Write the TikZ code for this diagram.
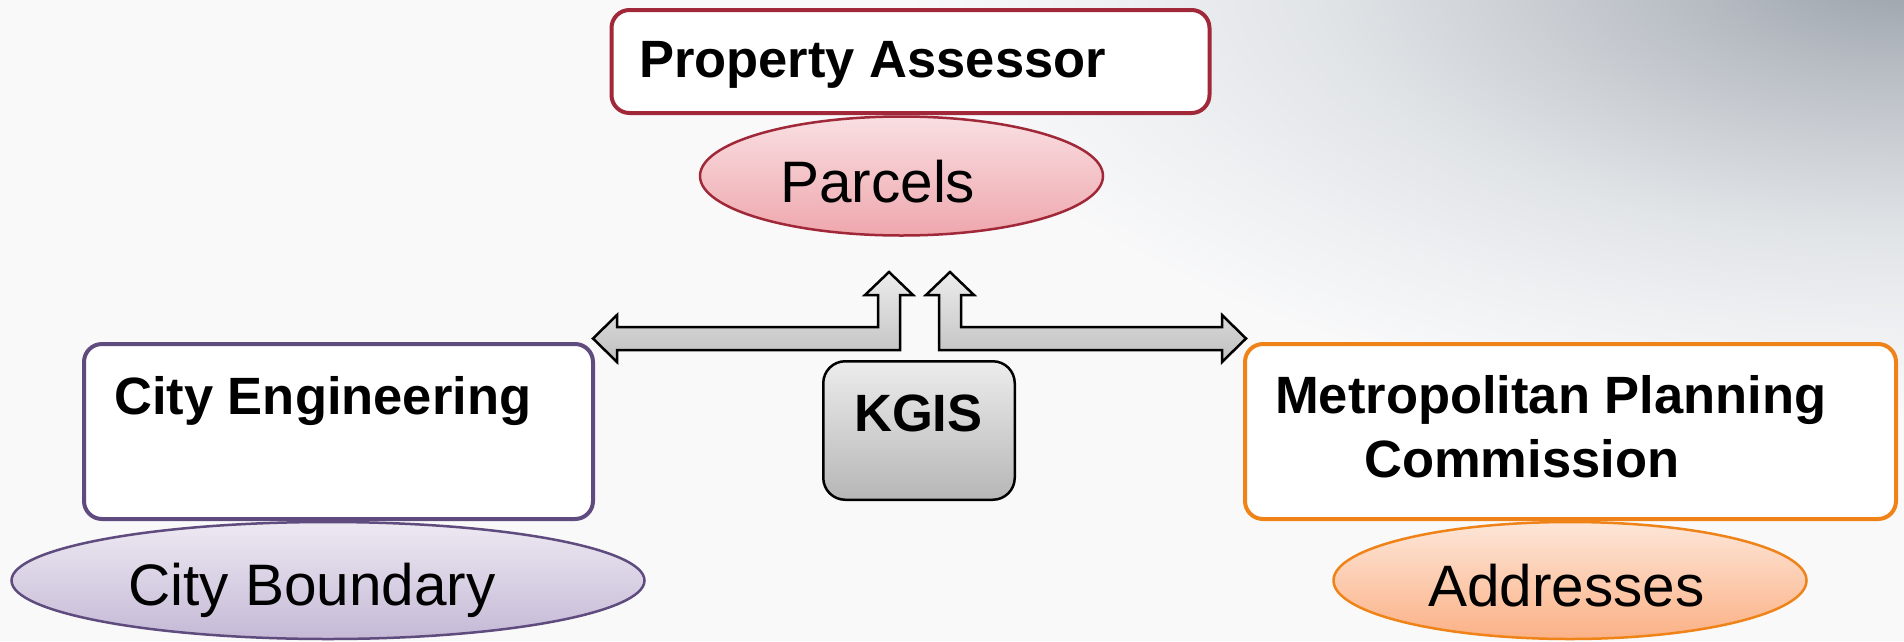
\documentclass[tikz,border=0pt]{standalone}
\usepackage{fontspec}
\setmainfont{Liberation Sans}
\usetikzlibrary{shapes.geometric}
\definecolor{bgc}{RGB}{249,249,250}
\definecolor{bg0}{RGB}{153,160,168}
\definecolor{bg1}{RGB}{181,186,193}
\definecolor{bg2}{RGB}{205,209,214}
\definecolor{bg3}{RGB}{226,229,232}
\definecolor{bg4}{RGB}{238,240,242}
\definecolor{redb}{RGB}{160,40,56}
\definecolor{redt}{RGB}{249,223,226}
\definecolor{redm}{RGB}{238,167,173}
\definecolor{purb}{RGB}{95,75,125}
\definecolor{purt}{RGB}{237,233,242}
\definecolor{purm}{RGB}{197,185,214}
\definecolor{orab}{RGB}{239,131,24}
\definecolor{orat}{RGB}{253,230,216}
\definecolor{oram}{RGB}{251,177,134}
\definecolor{grt}{RGB}{236,236,236}
\definecolor{grm}{RGB}{192,192,192}
\pgfdeclareradialshading{bgrad}{\pgfpoint{0bp}{0bp}}{color(0bp)=(bg0); color(5bp)=(bg1); color(10bp)=(bg2); color(15bp)=(bg3); color(20bp)=(bg4); color(25bp)=(bgc); color(50bp)=(bgc)}
\tikzset{
  agency/.style={draw, line width=4pt, fill=white, rounded corners=18pt, inner sep=0pt},
  dataset/.style={ellipse, draw, line width=2.5pt, inner sep=0pt},
  boldlbl/.style={anchor=base west, inner sep=0pt, font=\fontsize{52.5}{60}\selectfont\bfseries},
  reglbl/.style={anchor=base west, inner sep=0pt, font=\fontsize{58.5}{66}\selectfont},
  bigarrow/.style={draw=black, line width=2.5pt, line join=miter, top color=grt, bottom color=grm}
}
\begin{document}
\begin{tikzpicture}[x=1pt,y=-1pt]
\useasboundingbox (0,0) rectangle (1904,641);
\fill[bgc] (0,0) rectangle (1904,641);
\begin{scope}
\clip (0,0) rectangle (1904,641);
\shade[shading=bgrad] (904,-480) rectangle (2904,420);
\end{scope}

% data ellipses
\node[dataset, draw=redb, top color=redt, bottom color=redm, minimum width=403pt, minimum height=119pt] (parcels) at (901.5,176) {};
\node[dataset, draw=purb, top color=purt, bottom color=purm, minimum width=633pt, minimum height=117pt] (boundary) at (328,580.5) {};
\node[dataset, draw=orab, top color=orat, bottom color=oram, minimum width=473pt, minimum height=117pt] (addresses) at (1570,580.5) {};

% agency boxes
\node[agency, draw=redb, minimum width=598pt, minimum height=103pt] (assessor) at (910.5,61.5) {};
\node[agency, draw=purb, minimum width=509pt, minimum height=175pt] (engineering) at (338.5,431.5) {};
\node[agency, draw=orab, minimum width=651pt, minimum height=175pt] (mpc) at (1570.5,431.5) {};

% arrows
\path[bigarrow] (593,338.5) -- (617,315) -- (617,327) -- (878,327) -- (878,295) -- (865,295) -- (889,272) -- (913,295) -- (900,295) -- (900,350) -- (617,350) -- (617,362) -- cycle;
\path[bigarrow] (1246,338.5) -- (1222,315) -- (1222,327) -- (961,327) -- (961,295) -- (974,295) -- (950,272) -- (926,295) -- (939,295) -- (939,350) -- (1222,350) -- (1222,362) -- cycle;

% KGIS
\node[draw=black, line width=2.5pt, rounded corners=22pt, top color=grt, bottom color=grm!95!black, minimum width=191.5pt, minimum height=138.5pt, inner sep=0pt] (kgis) at (919,430.5) {};

% labels
\node[boldlbl] (tassessor) at (639,77) {Property Assessor};
\node[reglbl] (tparcels) at (780,202) {Parcels};
\node[boldlbl] (tkgis) at (854,431) {KGIS};
\node[boldlbl] (tengineering) at (114,414) {City Engineering};
\node[reglbl] (tboundary) at (128,605) {City Boundary};
\node[boldlbl] (tmpc1) at (1275,413) {Metropolitan Planning};
\node[boldlbl] (tmpc2) at (1364,477) {Commission};
\node[reglbl] (taddresses) at (1428,606) {Addresses};
\end{tikzpicture}
\end{document}
